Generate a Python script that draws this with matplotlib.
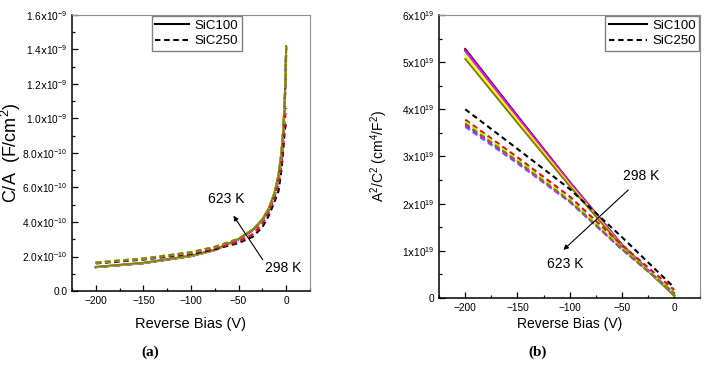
import matplotlib.pyplot as plt
import numpy as np
from matplotlib.lines import Line2D
from matplotlib.ticker import FuncFormatter, MultipleLocator

plt.rcParams['font.family'] = ['Liberation Sans', 'DejaVu Sans']
plt.rcParams['mathtext.default'] = 'regular'

# temperatures 298 K ... 623 K, Origin colour order
temps = [298, 348, 398, 448, 498, 548, 598, 623]
colors = ['#000000', '#ff0000', '#00ff00', '#0000ff', '#00ffff', '#ff00ff', '#ffff00', '#808000']

# (a) C/A in units of 1e-10 F/cm^2
bias_a = [-200, -150, -100, -75, -50, -35, -25, -18, -12, -8, -5, -3, -1.5, -0.5, 0]
ca_sic100 = [
    [1.38, 1.61, 2.02, 2.37, 2.99, 3.54, 4.13, 4.79, 5.71, 6.73, 7.98, 9.37, 11.0, 12.8, 14.1],
    [1.38, 1.61, 2.02, 2.37, 2.99, 3.55, 4.14, 4.80, 5.72, 6.74, 7.99, 9.38, 11.0, 12.8, 14.1],
    [1.39, 1.62, 2.03, 2.38, 3.00, 3.56, 4.15, 4.81, 5.74, 6.76, 8.01, 9.40, 11.05, 12.85, 14.15],
    [1.38, 1.62, 2.03, 2.38, 3.00, 3.55, 4.13, 4.78, 5.68, 6.66, 7.88, 9.25, 10.9, 12.7, 14.1],
    [1.39, 1.62, 2.03, 2.38, 3.00, 3.56, 4.15, 4.81, 5.73, 6.75, 8.00, 9.40, 11.05, 12.85, 14.15],
    [1.38, 1.62, 2.03, 2.38, 3.00, 3.55, 4.14, 4.80, 5.72, 6.74, 7.99, 9.38, 11.0, 12.8, 14.1],
    [1.39, 1.63, 2.04, 2.39, 3.01, 3.57, 4.16, 4.83, 5.76, 6.79, 8.05, 9.45, 11.1, 12.9, 14.2],
    [1.40, 1.64, 2.05, 2.40, 3.02, 3.57, 4.16, 4.82, 5.74, 6.76, 8.00, 9.40, 11.1, 12.85, 14.2],
]
ca_sic250 = [
    [1.60, 1.82, 2.15, 2.42, 2.78, 3.15, 3.70, 4.40, 5.20, 5.80, 7.00, 8.20, 9.30, 9.60, 9.70],
    [1.62, 1.85, 2.19, 2.47, 2.86, 3.30, 3.90, 4.60, 5.45, 6.20, 7.30, 8.50, 9.80, 10.4, 10.6],
    [1.65, 1.88, 2.24, 2.55, 3.02, 3.55, 4.10, 4.75, 5.62, 6.60, 7.80, 9.10, 10.8, 12.5, 13.9],
    [1.64, 1.87, 2.23, 2.54, 3.00, 3.52, 4.06, 4.70, 5.55, 6.50, 7.70, 9.00, 10.7, 12.4, 13.8],
    [1.65, 1.88, 2.24, 2.55, 3.02, 3.55, 4.10, 4.76, 5.64, 6.62, 7.85, 9.15, 10.9, 12.6, 14.0],
    [1.65, 1.88, 2.23, 2.54, 3.01, 3.54, 4.09, 4.74, 5.60, 6.58, 7.78, 9.10, 10.8, 12.5, 13.9],
    [1.66, 1.89, 2.25, 2.56, 3.04, 3.58, 4.14, 4.80, 5.70, 6.70, 7.95, 9.30, 11.0, 12.8, 14.1],
    [1.65, 1.88, 2.25, 2.56, 3.03, 3.57, 4.13, 4.79, 5.68, 6.68, 7.92, 9.25, 10.95, 12.7, 14.1],
]

# (b) A^2/C^2 in units of 1e19 cm^4/F^2
bias_b = [-200, -150, -100, -50, 0]
a2c2_sic100 = [
    [5.28, 3.86, 2.46, 1.13, 0.05],
    [5.27, 3.85, 2.45, 1.12, 0.05],
    [5.24, 3.83, 2.44, 1.12, 0.05],
    [5.25, 3.84, 2.44, 1.12, 0.05],
    [5.22, 3.82, 2.43, 1.11, 0.05],
    [5.24, 3.83, 2.44, 1.12, 0.05],
    [5.15, 3.77, 2.40, 1.10, 0.05],
    [5.07, 3.71, 2.37, 1.09, 0.05],
]
a2c2_sic250 = [
    [4.00, 3.16, 2.31, 1.29, 0.22],
    [3.78, 2.98, 2.15, 1.12, 0.17],
    [3.74, 2.93, 2.08, 1.06, 0.11],
    [3.68, 2.89, 2.05, 1.04, 0.10],
    [3.62, 2.85, 2.03, 1.03, 0.10],
    [3.64, 2.86, 2.04, 1.03, 0.10],
    [3.73, 2.92, 2.07, 1.05, 0.10],
    [3.70, 2.90, 2.06, 1.04, 0.10],
]

fig = plt.figure(figsize=(7.06, 3.70), dpi=100)
ax1 = fig.add_axes([0.102, 0.2135, 0.337, 0.746])
ax2 = fig.add_axes([0.622, 0.1946, 0.370, 0.765])

dash = (2.6, 1.8)
for c, y in zip(colors, ca_sic100):
    ax1.plot(bias_a, np.array(y) * 1e-10, color=c, lw=1.4)
for c, y in zip(colors, ca_sic250):
    ax1.plot(bias_a, np.array(y) * 1e-10, color=c, lw=1.5, ls=(0, dash))
for c, y in zip(colors, a2c2_sic100):
    ax2.plot(bias_b, np.array(y) * 1e19, color=c, lw=1.4)
for c, y in zip(colors, a2c2_sic250):
    ax2.plot(bias_b, np.array(y) * 1e19, color=c, lw=1.5, ls=(0, dash))


def fmt_a(v, pos):
    if v == 0:
        return '0.0'
    e = int(np.floor(np.log10(abs(v)) + 1e-9))
    return r'$%.1f\mathrm{x}10^{%d}$' % (v / 10 ** e, e)


def fmt_b(v, pos):
    if v == 0:
        return '0'
    return r'$%d\mathrm{x}10^{19}$' % round(v / 1e19)


for ax in (ax1, ax2):
    ax.set_xlim(-225, 25)
    ax.xaxis.set_major_locator(MultipleLocator(50))
    ax.xaxis.set_minor_locator(MultipleLocator(25))
    ax.tick_params(which='both', direction='in', top=False, right=False,
                   labelsize=7.3, width=0.9)
    ax.tick_params(which='major', length=4)
    ax.tick_params(which='minor', length=2.5)
    for s in ('top', 'right'):
        ax.spines[s].set_color('#909090')
    for s in ('left', 'bottom'):
        ax.spines[s].set_linewidth(1.1)

ax1.set_ylim(0, 1.6e-9)
ax1.yaxis.set_major_locator(MultipleLocator(2e-10))
ax1.yaxis.set_minor_locator(MultipleLocator(1e-10))
ax1.yaxis.set_major_formatter(FuncFormatter(fmt_a))
ax1.set_xlabel('Reverse Bias (V)', fontsize=10.5, labelpad=8)
ax1.set_ylabel('C/A  (F/cm$^2$)', fontsize=13)
ax1.yaxis.set_label_coords(-0.205, 0.5)

ax2.set_ylim(0, 6e19)
ax2.yaxis.set_major_locator(MultipleLocator(1e19))
ax2.yaxis.set_minor_locator(MultipleLocator(0.5e19))
ax2.yaxis.set_major_formatter(FuncFormatter(fmt_b))
ax2.set_xlabel('Reverse Bias (V)', fontsize=10, labelpad=3)
ax2.set_ylabel('A$^2$/C$^2$ (cm$^4$/F$^2$)', fontsize=10)
ax2.yaxis.set_label_coords(-0.19, 0.5)

handles = [Line2D([], [], color='black', lw=1.5),
           Line2D([], [], color='black', lw=1.5, ls=(0, dash))]
leg_kw = dict(fontsize=9.5, fancybox=False, framealpha=1, edgecolor='#808080',
              borderpad=0.25, labelspacing=0.25, handletextpad=0.4,
              borderaxespad=0.1)
l1 = ax1.legend(handles, ['SiC100', 'SiC250'], loc='upper left',
                bbox_to_anchor=(0.33, 1.0), handlelength=2.6, **leg_kw)
l2 = ax2.legend(handles, ['SiC100', 'SiC250'], loc='upper right',
                bbox_to_anchor=(1.0, 1.0), handlelength=2.9, **leg_kw)
for leg in (l1, l2):
    leg.get_frame().set_linewidth(1.0)

arrow = dict(arrowstyle='-|>', color='black', lw=0.8, mutation_scale=7)
ax1.annotate('', xy=(-57, 4.5e-10), xytext=(-23, 1.68e-10), arrowprops=arrow)
ax1.text(-63, 5.35e-10, '623 K', fontsize=10, ha='center', va='center')
ax1.text(-3, 1.32e-10, '298 K', fontsize=10, ha='center', va='center')

ax2.annotate('', xy=(-108, 0.98e19), xytext=(-42, 2.33e19), arrowprops=arrow)
ax2.text(-32, 2.58e19, '298 K', fontsize=10, ha='center', va='center')
ax2.text(-104, 0.72e19, '623 K', fontsize=10, ha='center', va='center')

fig.text(0.213, 0.049, '(a)', fontsize=11, ha='center', va='center',
         family='Liberation Serif', fontweight='bold')
fig.text(0.762, 0.049, '(b)', fontsize=11, ha='center', va='center',
         family='Liberation Serif', fontweight='bold')

fig.savefig('out.png', dpi=100)
